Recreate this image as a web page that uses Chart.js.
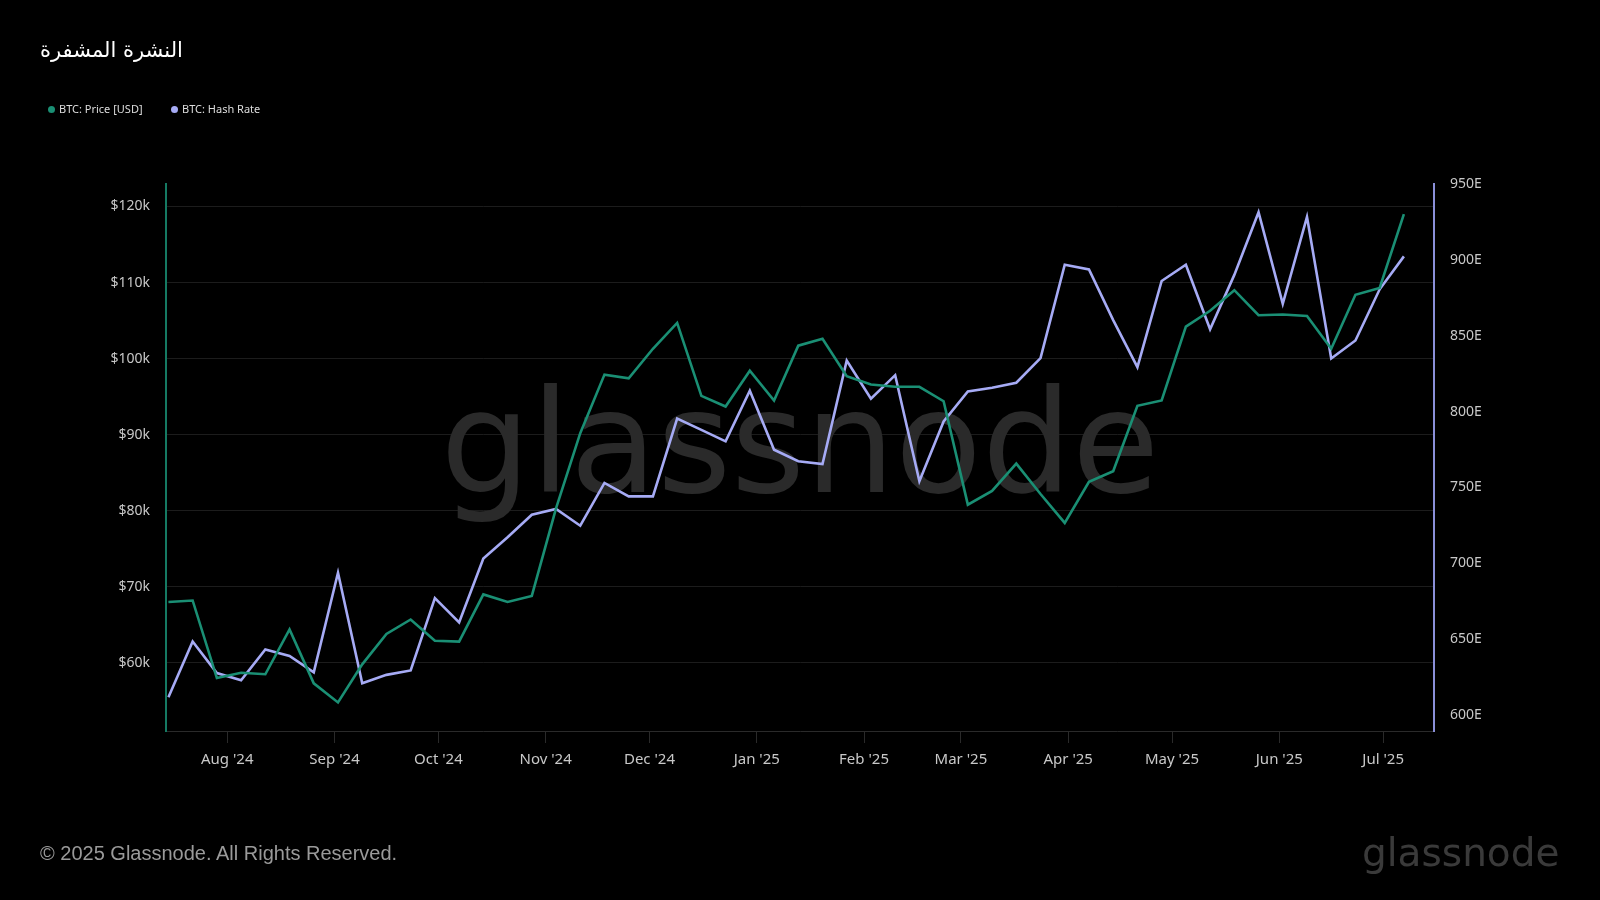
<!DOCTYPE html>
<html>
<head>
<meta charset="utf-8">
<script src="https://cdn.jsdelivr.net/npm/chart.js@4.4.1/dist/chart.umd.min.js"></script>
<style>
  body { margin: 0; background: #000; }
  #wrap { position: relative; width: 1600px; height: 900px; background: #000; overflow: hidden; }
  #c { position: absolute; left: 0; top: 0; }
  .title { position: absolute; left: 40px; top: 38px; color: #fff; font: 21px "DejaVu Sans", sans-serif; direction: rtl; }
  .legend { position: absolute; top: 101px; font: 11px "Noto Sans", sans-serif; color: #ddd; white-space: nowrap; }
  .legend i { display: inline-block; width: 7px; height: 7px; border-radius: 50%; margin-right: 4px; vertical-align: 0px; }
  .foot { position: absolute; left: 40px; top: 842px; color: #9a9a9a; font: 20px "Liberation Sans", Arial, sans-serif; }
  .logo { position: absolute; left: 1362px; top: 830px; color: #3a3a3a; font: 39px "DejaVu Sans", sans-serif; }
</style>
</head>
<body>
<div id="wrap">
  <canvas id="c" width="1600" height="900"></canvas>
  <div class="title">النشرة المشفرة</div>
  <div class="legend" style="left:48px"><i style="background:#1a8f74"></i>BTC: Price [USD]</div>
  <div class="legend" style="left:171px"><i style="background:#a6abf5"></i>BTC: Hash Rate</div>
  <div class="foot">© 2025 Glassnode. All Rights Reserved.</div>
  <div class="logo">glassnode</div>
</div>
<script>
const dates = [
  "2024-07-15", "2024-07-22", "2024-07-29", "2024-08-05", "2024-08-12", "2024-08-19", "2024-08-26",
  "2024-09-02", "2024-09-09", "2024-09-16", "2024-09-23", "2024-09-30", "2024-10-07", "2024-10-14",
  "2024-10-21", "2024-10-28", "2024-11-04", "2024-11-11", "2024-11-18", "2024-11-25", "2024-12-02",
  "2024-12-09", "2024-12-16", "2024-12-23", "2024-12-30", "2025-01-06", "2025-01-13", "2025-01-20",
  "2025-01-27", "2025-02-03", "2025-02-10", "2025-02-17", "2025-02-24", "2025-03-03", "2025-03-10",
  "2025-03-17", "2025-03-24", "2025-03-31", "2025-04-07", "2025-04-14", "2025-04-21", "2025-04-28",
  "2025-05-05", "2025-05-12", "2025-05-19", "2025-05-26", "2025-06-02", "2025-06-09", "2025-06-16",
  "2025-06-23", "2025-06-30", "2025-07-07"
];

// BTC price, USD
const price = [
  68000, 68200, 58000, 58700, 58500, 64400, 57300, 54800, 59800, 63800, 65700, 62900, 62800,
  69000, 68000, 68800, 80300, 90200, 97900, 97400, 101300, 104700, 95100, 93700, 98400, 94500,
  101700, 102600, 97700, 96600, 96300, 96300, 94400, 80800, 82600, 86200, 82200, 78400, 83800,
  85200, 93800, 94500, 104200, 106300, 109000, 105700, 105800, 105600, 101300, 108400, 109300, 119000
];

// hash rate, EH/s
const hashRate = [
  611.7, 648.5, 627.7, 622.9, 643.2, 638.9, 628.2, 693.8, 621.0, 626.5, 629.4, 677.1, 661.1,
  703.1, 717.2, 732.0, 735.8, 724.8, 753.0, 744.1, 744.1, 795.4, 788.0, 780.4, 813.8, 774.9,
  767.3, 765.4, 833.6, 808.5, 824.0, 754.1, 793.5, 813.3, 815.7, 819.0, 835.2, 896.8, 893.7,
  860.3, 829.3, 886.1, 896.8, 854.3, 890.1, 931.4, 871.0, 928.3, 835.0, 846.9, 880.6, 902.3
];

const monthDates = ["2024-08-01", "2024-09-01", "2024-10-01", "2024-11-01", "2024-12-01", "2025-01-01",
  "2025-02-01", "2025-03-01", "2025-04-01", "2025-05-01", "2025-06-01", "2025-07-01"];
const monthLabels = ["Aug '24", "Sep '24", "Oct '24", "Nov '24", "Dec '24", "Jan '25",
  "Feb '25", "Mar '25", "Apr '25", "May '25", "Jun '25", "Jul '25"];

const priceTicks = [60000, 70000, 80000, 90000, 100000, 110000, 120000];
const hashTicks = [600, 650, 700, 750, 800, 850, 900, 950];

const day = s => Date.parse(s + "T00:00:00Z") / 86400000;
const monthDays = monthDates.map(day);

const watermark = {
  id: "watermark",
  beforeDatasetsDraw(chart) {
    const { ctx, chartArea } = chart;
    ctx.save();
    ctx.font = '142px "DejaVu Sans", sans-serif';
    ctx.fillStyle = "#2a2a2a";
    ctx.textAlign = "center";
    ctx.textBaseline = "alphabetic";
    ctx.fillText("glassnode", (chartArea.left + chartArea.right) / 2, 492);
    ctx.restore();
  }
};

const ctx = document.getElementById("c").getContext("2d");
const chart = new Chart(ctx, {
  type: "line",
  data: {
    datasets: [
      {
        label: "BTC: Price [USD]",
        data: dates.map((d, i) => ({ x: day(d), y: price[i] })),
        borderColor: "#1a8f74",
        borderWidth: 2.6,
        pointRadius: 0,
        tension: 0,
        yAxisID: "y"
      },
      {
        label: "BTC: Hash Rate",
        data: dates.map((d, i) => ({ x: day(d), y: hashRate[i] })),
        borderColor: "#a6abf5",
        borderWidth: 2.6,
        pointRadius: 0,
        tension: 0,
        yAxisID: "y1"
      }
    ]
  },
  options: {
    responsive: false,
    animation: false,
    layout: { padding: { left: 0, right: 0, top: 184, bottom: 119 } },
    plugins: { legend: { display: false }, tooltip: { enabled: false } },
    scales: {
      x: {
        type: "linear",
        min: day("2024-07-14") + 0.3,
        max: day("2025-07-15") + 0.7,
        afterBuildTicks: a => { a.ticks = monthDays.map(v => ({ value: v })); },
        afterFit: a => { a.height = 50; },
        ticks: {
          autoSkip: false,
          maxRotation: 0,
          color: "#c8c8c8",
          font: { family: "Noto Sans", size: 15 },
          padding: 8,
          callback: v => monthLabels[monthDays.indexOf(v)]
        },
        grid: { drawOnChartArea: false, drawTicks: true, tickLength: 12, color: "#2a2a2a" },
        border: { color: "#2a2a2a", width: 1 }
      },
      y: {
        position: "left",
        min: 51040,
        max: 122960,
        afterBuildTicks: a => { a.ticks = priceTicks.map(v => ({ value: v })); },
        afterFit: a => { a.width = 166; },
        ticks: {
          color: "#c8c8c8",
          font: { family: "Noto Sans", size: 14 },
          padding: 16,
          callback: v => "$" + v / 1000 + "k"
        },
        grid: { color: "#1c1c1c", drawTicks: false },
        border: { color: "#157a63", width: 2 }
      },
      y1: {
        position: "right",
        min: 589.5,
        max: 950,
        afterBuildTicks: a => { a.ticks = hashTicks.map(v => ({ value: v })); },
        afterFit: a => { a.width = 166; },
        ticks: {
          color: "#c8c8c8",
          font: { family: "Noto Sans", size: 14 },
          padding: 16,
          callback: v => v + "E"
        },
        grid: { drawOnChartArea: false, drawTicks: false },
        border: { color: "#8a8fd8", width: 2 }
      }
    }
  },
  plugins: [watermark]
});
</script>
</body>
</html>
